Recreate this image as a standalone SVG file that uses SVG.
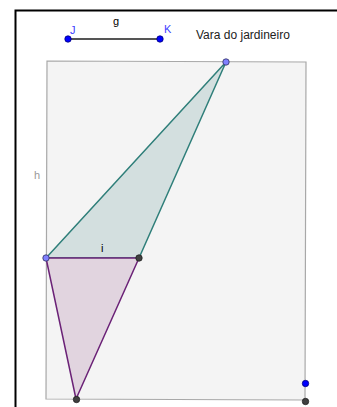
<svg xmlns="http://www.w3.org/2000/svg" width="337" height="407" viewBox="0 0 337 407">
<style>
text{font-family:"Liberation Sans",Arial,sans-serif;font-size:11px}
.bp{fill:#0000ff;stroke:#00007a;stroke-width:0.8}
.lp{fill:#8080ff;stroke:#303060;stroke-width:0.8}
.gp{fill:#404040;stroke:#202020;stroke-width:0.8}
</style>
<rect x="0" y="0" width="337" height="407" fill="#ffffff"/>
<path d="M15.5 407 V10.5 H337" fill="none" stroke="#000" stroke-width="2"/>
<g id="rect"><polygon points="47,61 306,62 305,400 46,399" fill="#f4f4f4" stroke="#a8a8a8" stroke-width="1.2"/></g>
<g id="connectors">
<polygon points="226,62 46,258 139,258" fill="#d3dfdf" stroke="#2f7f7a" stroke-width="1.5" stroke-linejoin="round"/>
<polygon points="46,258 139,258 76,399" fill="#e1d4df" stroke="#6b2277" stroke-width="1.5" stroke-linejoin="round"/>
<line x1="68" y1="39" x2="160" y2="39" stroke="#555" stroke-width="2.2"/>
</g>
<g id="J"><circle class="bp" cx="68" cy="39" r="3.2"/><text x="70" y="34" fill="#4040ff" font-size="12">J</text></g>
<g id="K"><circle class="bp" cx="160" cy="39" r="3.2"/><text x="164" y="33" fill="#4040ff" font-size="12">K</text></g>
<text x="113" y="25" fill="#000" font-size="12">g</text>
<text x="196" y="39" fill="#222" style="font-size:12px">Vara do jardineiro</text>
<text x="34" y="179" fill="#999" font-size="12">h</text>
<text x="101" y="252" fill="#000" font-size="12">i</text>
<g id="P1"><circle class="lp" cx="226" cy="62" r="3.2"/></g>
<g id="P2"><circle class="lp" cx="46" cy="258" r="3.2"/></g>
<g id="P3"><circle class="gp" cx="139" cy="258" r="3.2"/></g>
<g id="P4"><circle class="gp" cx="76.5" cy="399.5" r="3.2"/></g>
<g id="P5"><circle class="bp" cx="305.5" cy="383.5" r="3.2"/></g>
<g id="P6"><circle class="gp" cx="305.5" cy="401.5" r="3.2"/></g>
</svg>
